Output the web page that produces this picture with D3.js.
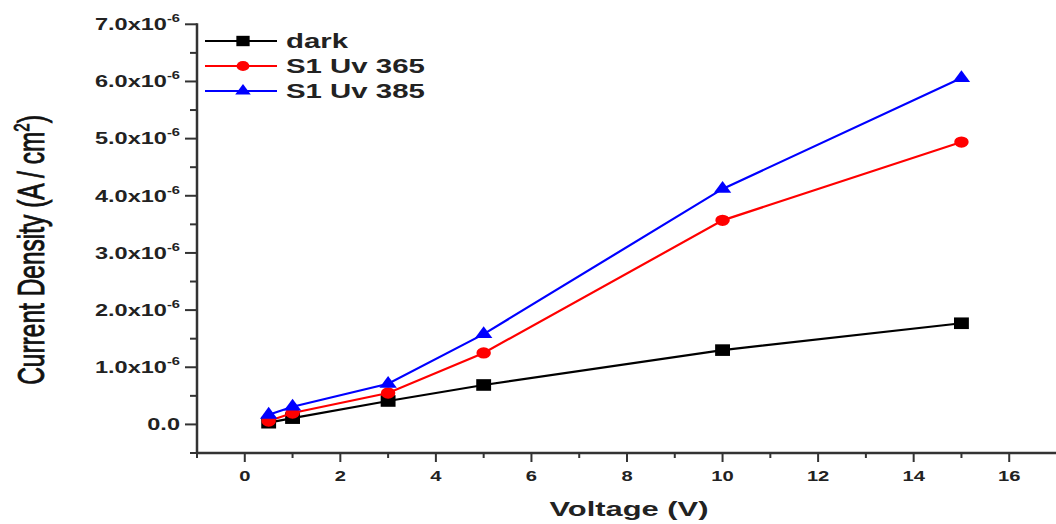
<!DOCTYPE html>
<html>
<head>
<meta charset="utf-8">
<script src="https://cdn.jsdelivr.net/npm/d3@7"></script>
<style>
  html, body { margin: 0; padding: 0; background: #fff; }
  svg { display: block; font-family: "Liberation Sans", Arial, sans-serif; }
</style>
</head>
<body>
<div id="chart"></div>
<script>
// values, current density in units of 1e-6 A/cm2
const voltage = [0.5, 1, 3, 5, 10, 15];
const dark    = [0.03, 0.11, 0.41, 0.69, 1.30, 1.77];
const uv365   = [0.06, 0.20, 0.55, 1.25, 3.57, 4.94];
const uv385   = [0.17, 0.31, 0.71, 1.58, 4.12, 6.06];

const seriesNames = ['dark', 'S1 Uv 365', 'S1 Uv 385'];
const xTicks = [0, 2, 4, 6, 8, 10, 12, 14, 16];
const yTicks = [0, 1, 2, 3, 4, 5, 6, 7];

const W = 1056, H = 524;
// the original picture is stretched sideways, so text and markers are widened
const textStretch = 1.47;
const markStretch = 1.28;

const svg = d3.select('#chart').append('svg')
    .attr('width', W)
    .attr('height', H);

const x = d3.scaleLinear().domain([-1, 17]).range([197, 1057]);
const y = d3.scaleLinear().domain([-0.5, 7]).range([453, 24.3]);

const axisColor = '#333';

// y axis
const yMinor = d3.range(-0.5, 7.01, 0.5).filter(v => Math.abs(v - Math.round(v)) > 0.01);
const gy = svg.append('g');
gy.append('line')
    .attr('x1', x(-1)).attr('x2', x(-1))
    .attr('y1', y(7) - 1).attr('y2', y(-0.5) + 1)
    .attr('stroke', axisColor).attr('stroke-width', 2.5);
gy.selectAll('.ymaj').data(yTicks).enter().append('line')
    .attr('x1', x(-1) - 12).attr('x2', x(-1))
    .attr('y1', d => y(d)).attr('y2', d => y(d))
    .attr('stroke', axisColor).attr('stroke-width', 2);
gy.selectAll('.ymin').data(yMinor).enter().append('line')
    .attr('x1', x(-1) - 7).attr('x2', x(-1))
    .attr('y1', d => y(d)).attr('y2', d => y(d))
    .attr('stroke', axisColor).attr('stroke-width', 2);

const yLab = gy.selectAll('.ylab').data(yTicks).enter().append('text')
    .attr('text-anchor', 'end')
    .attr('transform', d => 'translate(180,' + (y(d) + 5.8) + ') scale(' + textStretch + ',1)')
    .attr('font-weight', 'bold')
    .attr('font-size', 16)
    .attr('fill', '#222');
yLab.each(function(d) {
    const t = d3.select(this);
    if (d === 0) {
        t.text('0.0');
    } else {
        t.append('tspan').text(d3.format('.1f')(d) + 'x10');
        t.append('tspan').attr('dy', -8).attr('font-size', 10).text('-6');
    }
});

// x axis
const xMinor = d3.range(-1, 17.01, 2);
const gx = svg.append('g');
gx.append('line')
    .attr('x1', x(-1) - 1).attr('x2', W)
    .attr('y1', y(-0.5)).attr('y2', y(-0.5))
    .attr('stroke', axisColor).attr('stroke-width', 2.5);
gx.selectAll('.xmaj').data(xTicks).enter().append('line')
    .attr('x1', d => x(d)).attr('x2', d => x(d))
    .attr('y1', y(-0.5)).attr('y2', y(-0.5) + 9)
    .attr('stroke', axisColor).attr('stroke-width', 2);
gx.selectAll('.xmin').data(xMinor).enter().append('line')
    .attr('x1', d => x(d)).attr('x2', d => x(d))
    .attr('y1', y(-0.5)).attr('y2', y(-0.5) + 5)
    .attr('stroke', axisColor).attr('stroke-width', 2);
gx.selectAll('.xlab').data(xTicks).enter().append('text')
    .attr('text-anchor', 'middle')
    .attr('transform', d => 'translate(' + x(d) + ',481) scale(1.3,1)')
    .attr('font-weight', 'bold')
    .attr('font-size', 15.5)
    .attr('fill', '#222')
    .text(d => d);

// axis titles
svg.append('text')
    .attr('text-anchor', 'middle')
    .attr('transform', 'translate(629,516) scale(' + textStretch + ',1)')
    .attr('font-weight', 'bold')
    .attr('font-size', 21)
    .attr('fill', '#222')
    .text('Voltage (V)');

const yTitle = svg.append('text')
    .attr('text-anchor', 'middle')
    .attr('transform', 'translate(44,250) scale(' + textStretch + ',1) rotate(-90)')
    .attr('font-size', 24.5)
    .attr('fill', '#111')
    .attr('stroke', '#111')
    .attr('stroke-width', 0.6);
yTitle.append('tspan').text('Current Density (A / cm');
yTitle.append('tspan').attr('dy', -10).attr('font-size', 15).text('2');
yTitle.append('tspan').attr('dy', 10).text(')');

// series
const series = [
    { name: seriesNames[0], values: dark,  color: '#000000', symbol: d3.symbolSquare,   size: 135 },
    { name: seriesNames[1], values: uv365, color: '#ff0000', symbol: d3.symbolCircle,   size: 100 },
    { name: seriesNames[2], values: uv385, color: '#0000ff', symbol: d3.symbolTriangle, size: 80 }
];

const line = d3.line()
    .x(d => x(d[0]))
    .y(d => y(d[1]));

series.forEach(s => {
    const pts = voltage.map((v, i) => [v, s.values[i]]);
    const g = svg.append('g');
    g.append('path')
        .datum(pts)
        .attr('fill', 'none')
        .attr('stroke', s.color)
        .attr('stroke-width', 2.2)
        .attr('d', line);
    g.selectAll('path.mark').data(pts).enter().append('path')
        .attr('class', 'mark')
        .attr('transform', d => 'translate(' + x(d[0]) + ',' + y(d[1]) + ') scale(' + markStretch + ',1)')
        .attr('d', d3.symbol().type(s.symbol).size(s.size))
        .attr('fill', s.color);
});

// legend
const legend = svg.append('g');
const rowY = [41, 66, 91];
series.forEach((s, i) => {
    legend.append('line')
        .attr('x1', 205).attr('x2', 277)
        .attr('y1', rowY[i]).attr('y2', rowY[i])
        .attr('stroke', s.color).attr('stroke-width', 2.2);
    legend.append('path')
        .attr('transform', 'translate(243,' + rowY[i] + ') scale(' + markStretch + ',1)')
        .attr('d', d3.symbol().type(s.symbol).size(s.size * 0.8))
        .attr('fill', s.color);
    legend.append('text')
        .attr('transform', 'translate(286,' + (rowY[i] + 7) + ') scale(' + textStretch + ',1)')
        .attr('font-weight', 'bold')
        .attr('font-size', 20)
        .attr('fill', '#222')
        .text(s.name);
});
</script>
</body>
</html>
